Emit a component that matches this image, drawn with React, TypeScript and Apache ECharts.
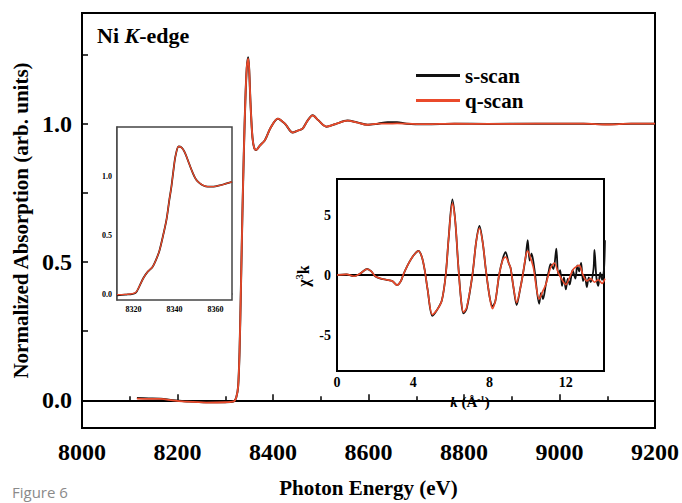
import React, { useEffect, useRef } from 'react';
import * as echarts from 'echarts';

// ---------- data ----------
const mainS: [number, number][] = [
  [8115, 0.008], [8140, 0.007], [8165, 0.006], [8190, 0.0], [8220, -0.004], [8260, -0.007],
  [8300, -0.007], [8318, -0.004], [8323, 0.01], [8327, 0.05], [8330, 0.18], [8333, 0.42],
  [8336, 0.68], [8339, 0.9], [8342, 1.08], [8345, 1.2], [8348, 1.24], [8350, 1.2],
  [8353, 1.07], [8357, 0.95], [8361, 0.91], [8365, 0.905], [8372, 0.92], [8383, 0.94],
  [8395, 0.985], [8410, 1.018], [8425, 1.0], [8441, 0.968], [8452, 0.975], [8462, 0.982],
  [8472, 1.01], [8483, 1.03], [8495, 1.012], [8512, 0.989], [8530, 0.998], [8556, 1.011],
  [8575, 1.005], [8598, 0.996], [8620, 1.0], [8640, 1.005], [8660, 1.005], [8680, 1.0],
  [8720, 0.998], [8780, 1.0], [8850, 0.999], [8950, 1.0], [9050, 1.0], [9100, 0.998],
  [9150, 1.0], [9200, 1.0],
];
const mainQ: [number, number][] = [
  [8115, 0.006], [8140, 0.005], [8165, 0.005], [8190, 0.0], [8220, -0.005], [8260, -0.008],
  [8300, -0.007], [8318, -0.004], [8323, 0.01], [8327, 0.05], [8330, 0.18], [8333, 0.42],
  [8336, 0.68], [8339, 0.9], [8342, 1.08], [8345, 1.2], [8348, 1.235], [8350, 1.2],
  [8353, 1.07], [8357, 0.95], [8361, 0.91], [8365, 0.905], [8372, 0.92], [8383, 0.94],
  [8395, 0.985], [8410, 1.018], [8425, 1.0], [8441, 0.968], [8452, 0.975], [8462, 0.982],
  [8472, 1.01], [8483, 1.03], [8495, 1.012], [8512, 0.989], [8530, 0.998], [8556, 1.011],
  [8575, 1.005], [8598, 0.996], [8620, 1.0], [8640, 1.0], [8660, 1.001], [8680, 1.0],
  [8720, 0.998], [8780, 1.0], [8850, 0.999], [8950, 1.0], [9050, 1.0], [9100, 0.997],
  [9150, 1.0], [9200, 1.0],
];

const edgeS: [number, number][] = [
  [8312, -0.01], [8316, -0.005], [8321, 0.01], [8323, 0.07], [8325, 0.14], [8327, 0.19],
  [8329.3, 0.23], [8331, 0.29], [8332.7, 0.37], [8334.5, 0.5], [8336.1, 0.63], [8337.5, 0.8],
  [8338.5, 0.91], [8339.5, 1.05], [8340.5, 1.17], [8342, 1.25], [8343.5, 1.24], [8345, 1.2],
  [8347, 1.11], [8348.8, 1.03], [8350.5, 0.97], [8352.2, 0.94], [8354, 0.92], [8356.1, 0.91],
  [8359, 0.91], [8362, 0.92], [8365, 0.935], [8368, 0.95],
];
const edgeQ: [number, number][] = [
  [8312, -0.005], [8316, -0.003], [8321, 0.012], [8323, 0.07], [8325, 0.14], [8327, 0.19],
  [8329.3, 0.23], [8331, 0.29], [8332.7, 0.37], [8334.5, 0.5], [8336.1, 0.63], [8337.5, 0.8],
  [8338.5, 0.91], [8339.5, 1.05], [8340.5, 1.17], [8342, 1.25], [8343.5, 1.24], [8345, 1.2],
  [8347, 1.11], [8348.8, 1.03], [8350.5, 0.97], [8352.2, 0.94], [8354, 0.92], [8356.1, 0.91],
  [8359, 0.91], [8362, 0.92], [8365, 0.935], [8368, 0.95],
];

const exafsS: [number, number][] = [
  [0, 0], [0.5, 0.05], [0.9, -0.1], [1.2, 0.1], [1.58, 0.5], [1.8, 0.3], [2.0, -0.1],
  [2.3, -0.3], [2.6, -0.4], [2.9, -0.5], [3.15, -0.85], [3.35, -0.5], [3.47, 0], [3.7, 0.8],
  [4.0, 1.6], [4.27, 2.0], [4.45, 1.5], [4.6, 0.4], [4.75, -1.2], [5.0, -3.4], [5.25, -2.9],
  [5.5, -2.1], [5.7, 0], [5.85, 3.0], [6.05, 6.3], [6.2, 4.5], [6.35, 1.0], [6.5, -2.0],
  [6.63, -3.2], [6.8, -2.8], [7.1, 0], [7.3, 2.8], [7.47, 4.1], [7.65, 2.6], [7.8, 0.5],
  [8.0, -1.8], [8.15, -2.6], [8.3, -2.2], [8.5, 0], [8.7, 1.4], [8.84, 1.9], [9.0, 1.0],
  [9.1, 0.6], [9.25, -1.0], [9.42, -2.5], [9.6, -1.2], [9.74, 0], [9.9, 1.6], [10.0, 2.9],
  [10.1, 1.2], [10.2, 1.8], [10.35, 0.5], [10.6, -2.4], [10.7, -1.5], [10.8, -2.0],
  [10.95, -0.8], [11.1, 0.3], [11.2, 0.9], [11.35, 0.5], [11.5, 2.2], [11.6, 0], [11.7, 0.4],
  [11.8, -0.9], [11.9, -0.2], [12.0, -1.2], [12.1, -0.3], [12.2, -0.8], [12.35, 0.4],
  [12.5, -0.3], [12.6, 0.8], [12.7, 0.3], [12.8, 1.0], [12.9, -0.5], [13.0, -0.1],
  [13.1, -1.0], [13.2, -0.2], [13.3, -0.6], [13.45, 0.5], [13.5, 2.1], [13.6, -0.2],
  [13.7, -0.9], [13.8, 0.2], [13.9, -0.4], [14.0, 0.5], [14.05, 2.9],
];
const exafsQ: [number, number][] = [
  [0, 0], [0.5, 0.05], [0.9, -0.1], [1.2, 0.1], [1.58, 0.5], [1.8, 0.3], [2.0, -0.1],
  [2.3, -0.3], [2.6, -0.4], [2.9, -0.5], [3.15, -0.85], [3.35, -0.5], [3.47, 0], [3.7, 0.8],
  [4.0, 1.6], [4.27, 2.0], [4.45, 1.5], [4.6, 0.4], [4.75, -1.2], [5.0, -3.3], [5.25, -2.9],
  [5.5, -2.1], [5.7, 0], [5.85, 3.0], [6.05, 6.0], [6.2, 4.5], [6.35, 1.0], [6.5, -2.0],
  [6.63, -3.1], [6.8, -2.7], [7.1, 0], [7.3, 2.8], [7.47, 3.9], [7.65, 2.6], [7.8, 0.5],
  [8.0, -1.8], [8.15, -2.8], [8.3, -2.2], [8.5, 0], [8.7, 1.3], [8.84, 1.5], [9.0, 1.0],
  [9.1, 0.6], [9.25, -1.0], [9.42, -2.3], [9.6, -1.2], [9.74, 0], [9.9, 1.6], [10.0, 2.0],
  [10.15, 1.4], [10.3, 0.6], [10.45, -1.0], [10.6, -2.0], [10.8, -1.3], [10.95, -0.8],
  [11.2, 0.6], [11.4, 1.0], [11.6, 0.2], [11.8, -0.4], [12.0, -0.8], [12.2, -0.2],
  [12.4, 0.5], [12.7, 0.8], [12.9, 0.0], [13.1, -0.5], [13.3, -0.3], [13.5, -0.6],
  [13.7, -0.4], [13.9, -0.7], [14.05, -0.3],
];

const mainYTicks = [0, 0.25, 0.5, 0.75, 1.0, 1.25];
const mainYLabels = [0, 0.5, 1.0];
const edgeXTicks = [8320, 8340, 8360];
const edgeYTicks = [0, 0.5, 1.0];
const exafsYTicks = [-7.5, -5, -2.5, 0, 2.5, 5, 7.5];
const exafsYLabels = [-5, 0, 5];

// ---------- styles ----------
const SERIF = "'Liberation Serif', 'DejaVu Serif', serif";
const RED = '#ea4a2b';
const BLACK = '#111111';

export default function App() {
  const ref = useRef<HTMLDivElement>(null);

  useEffect(() => {
    if (!ref.current) return;
    const chart = echarts.init(ref.current, undefined, { renderer: 'svg' });
    const bold = { fontFamily: SERIF, fontWeight: 'bold' as const, color: '#000' };
    const plain = (v: number) => String(v);

    const option: any = {
      animation: false,
      backgroundColor: '#fff',
      legend: {
        data: ['s-scan', 'q-scan'],
        orient: 'vertical',
        left: 411,
        top: 60,
        itemWidth: 44,
        itemHeight: 3,
        itemGap: 4,
        icon: 'rect',
        textStyle: { ...bold, fontSize: 21, lineHeight: 21 },
      },
      grid: [
        { left: 82, top: 13, width: 574, height: 421, show: true, borderColor: '#000', borderWidth: 2, backgroundColor: 'transparent' },
        { left: 117, top: 127, width: 115, height: 173, show: true, borderColor: '#444', borderWidth: 1.5, backgroundColor: '#fff', z: 5 },
        { left: 337, top: 179, width: 267, height: 192, show: true, borderColor: '#000', borderWidth: 2, backgroundColor: '#fff', z: 5 },
      ],
      xAxis: [
        {
          gridIndex: 0, type: 'value', min: 8000, max: 9200, interval: 200,
          axisLine: { show: true, lineStyle: { color: '#000', width: 2 } },
          axisTick: { show: true, inside: true, length: 6, lineStyle: { color: '#000', width: 1.5 } },
          minorTick: { show: true, splitNumber: 2, length: 4, lineStyle: { color: '#000', width: 1.5 } },
          axisLabel: { ...bold, fontSize: 24, margin: 12, showMinLabel: true, showMaxLabel: true, formatter: plain },
          splitLine: { show: false },
          name: 'Photon Energy (eV)', nameLocation: 'middle', nameGap: 49,
          nameTextStyle: { ...bold, fontSize: 21 },
        },
        {
          gridIndex: 1, type: 'value', min: 8312, max: 8368,
          axisLine: { show: true, lineStyle: { color: '#444', width: 1.5 } },
          axisTick: { show: true, inside: true, length: 3, customValues: edgeXTicks, lineStyle: { color: '#444' } },
          axisLabel: { ...bold, fontSize: 8, margin: 5, customValues: edgeXTicks, formatter: plain },
          splitLine: { show: false },
        },
        {
          gridIndex: 2, type: 'value', min: 0, max: 14, interval: 2,
          axisLine: { show: true, lineStyle: { color: '#000', width: 2 } },
          axisTick: { show: true, inside: true, length: 4, lineStyle: { color: '#000', width: 1.5 } },
          axisLabel: { ...bold, fontSize: 14, margin: 4, formatter: (v: number) => (v % 4 === 0 ? String(v) : '') },
          splitLine: { show: false },
        },
      ],
      yAxis: [
        {
          gridIndex: 0, type: 'value', min: -0.1, max: 1.4,
          axisLine: { show: true, lineStyle: { color: '#000', width: 2 } },
          axisTick: { show: true, inside: true, length: 6, customValues: mainYTicks, lineStyle: { color: '#000', width: 1.5 } },
          axisLabel: { ...bold, fontSize: 24, margin: 10, customValues: mainYLabels, formatter: (v: number) => v.toFixed(1) },
          splitLine: { show: false },
          name: 'Normalized Absorption (arb. units)', nameLocation: 'middle', nameGap: 50,
          nameTextStyle: { ...bold, fontSize: 21 },
        },
        {
          gridIndex: 1, type: 'value', min: -0.05, max: 1.415,
          axisLine: { show: true, lineStyle: { color: '#444', width: 1.5 } },
          axisTick: { show: true, inside: true, length: 3, customValues: edgeYTicks, lineStyle: { color: '#444' } },
          axisLabel: { ...bold, fontSize: 8, margin: 5, customValues: edgeYTicks, formatter: (v: number) => v.toFixed(1) },
          splitLine: { show: false },
        },
        {
          gridIndex: 2, type: 'value', min: -8, max: 8,
          axisLine: { show: true, lineStyle: { color: '#000', width: 2 } },
          axisTick: { show: true, inside: true, length: 4, customValues: exafsYTicks, lineStyle: { color: '#000', width: 1.5 } },
          axisLabel: { ...bold, fontSize: 14, margin: 6, customValues: exafsYLabels, formatter: plain },
          splitLine: { show: false },
        },
      ],
      graphic: [
        {
          type: 'text', left: 97, top: 24, z: 10,
          style: {
            text: '{n|Ni }{i|K}{n|-edge}',
            rich: {
              n: { fontFamily: SERIF, fontWeight: 'bold', fontSize: 22, fill: '#000' },
              i: { fontFamily: SERIF, fontWeight: 'bold', fontStyle: 'italic', fontSize: 22, fill: '#000' },
            },
          },
        },
        {
          type: 'text', x: 303, y: 276, rotation: Math.PI / 2, z: 10,
          style: {
            text: '{n|χ}{s|3}{n|k}', align: 'center', verticalAlign: 'middle',
            rich: {
              n: { fontFamily: SERIF, fontWeight: 'bold', fontSize: 16, fill: '#000', lineHeight: 18 },
              s: { fontFamily: SERIF, fontWeight: 'bold', fontSize: 10, fill: '#000', lineHeight: 18, padding: [0, 0, 7, 0] },
            },
          },
        },
        {
          type: 'text', x: 470, y: 402, z: 10,
          style: {
            text: '{i|k}{n| (Å}{s|-1}{n|)}', align: 'center', verticalAlign: 'middle',
            rich: {
              i: { fontFamily: SERIF, fontWeight: 'bold', fontStyle: 'italic', fontSize: 15, fill: '#000', lineHeight: 15 },
              n: { fontFamily: SERIF, fontWeight: 'bold', fontSize: 15, fill: '#000', lineHeight: 15 },
              s: { fontFamily: SERIF, fontWeight: 'bold', fontSize: 9, fill: '#000', lineHeight: 15, padding: [0, 0, 6, 0] },
            },
          },
        },
        {
          type: 'text', left: 12, top: 484, z: 10,
          style: { text: 'Figure 6', fontFamily: "'Open Sans', sans-serif", fontSize: 15, fill: '#8a8a8a' },
        },
      ],
      series: [
        {
          name: 's-scan', type: 'line', xAxisIndex: 0, yAxisIndex: 0, data: mainS,
          showSymbol: false, smooth: 0.3, lineStyle: { color: BLACK, width: 2 }, itemStyle: { color: BLACK }, z: 2,
        },
        {
          name: 'q-scan', type: 'line', xAxisIndex: 0, yAxisIndex: 0, data: mainQ,
          showSymbol: false, smooth: 0.3, lineStyle: { color: RED, width: 1.8 }, itemStyle: { color: RED }, z: 3,
        },
        {
          name: 's-scan', type: 'line', xAxisIndex: 1, yAxisIndex: 1, data: edgeS,
          showSymbol: false, smooth: 0.3, lineStyle: { color: BLACK, width: 1.8 }, itemStyle: { color: BLACK }, z: 6,
        },
        {
          name: 'q-scan', type: 'line', xAxisIndex: 1, yAxisIndex: 1, data: edgeQ,
          showSymbol: false, smooth: 0.3, lineStyle: { color: RED, width: 1.3 }, itemStyle: { color: RED }, z: 7,
        },
        {
          name: 's-scan', type: 'line', xAxisIndex: 2, yAxisIndex: 2, data: exafsS,
          showSymbol: false, smooth: 0.3, lineStyle: { color: BLACK, width: 1.8 }, itemStyle: { color: BLACK }, z: 6,
          markLine: {
            silent: true, symbol: 'none', label: { show: false },
            lineStyle: { color: '#000', width: 2, type: 'solid' },
            data: [{ yAxis: 0 }],
          },
        },
        {
          name: 'q-scan', type: 'line', xAxisIndex: 2, yAxisIndex: 2, data: exafsQ,
          showSymbol: false, smooth: 0.3, lineStyle: { color: RED, width: 1.6 }, itemStyle: { color: RED }, z: 7,
        },
      ],
    };

    chart.setOption(option);
    return () => chart.dispose();
  }, []);

  return <div ref={ref} style={{ width: 682, height: 503, position: 'absolute', left: 0, top: 0 }} />;
}
